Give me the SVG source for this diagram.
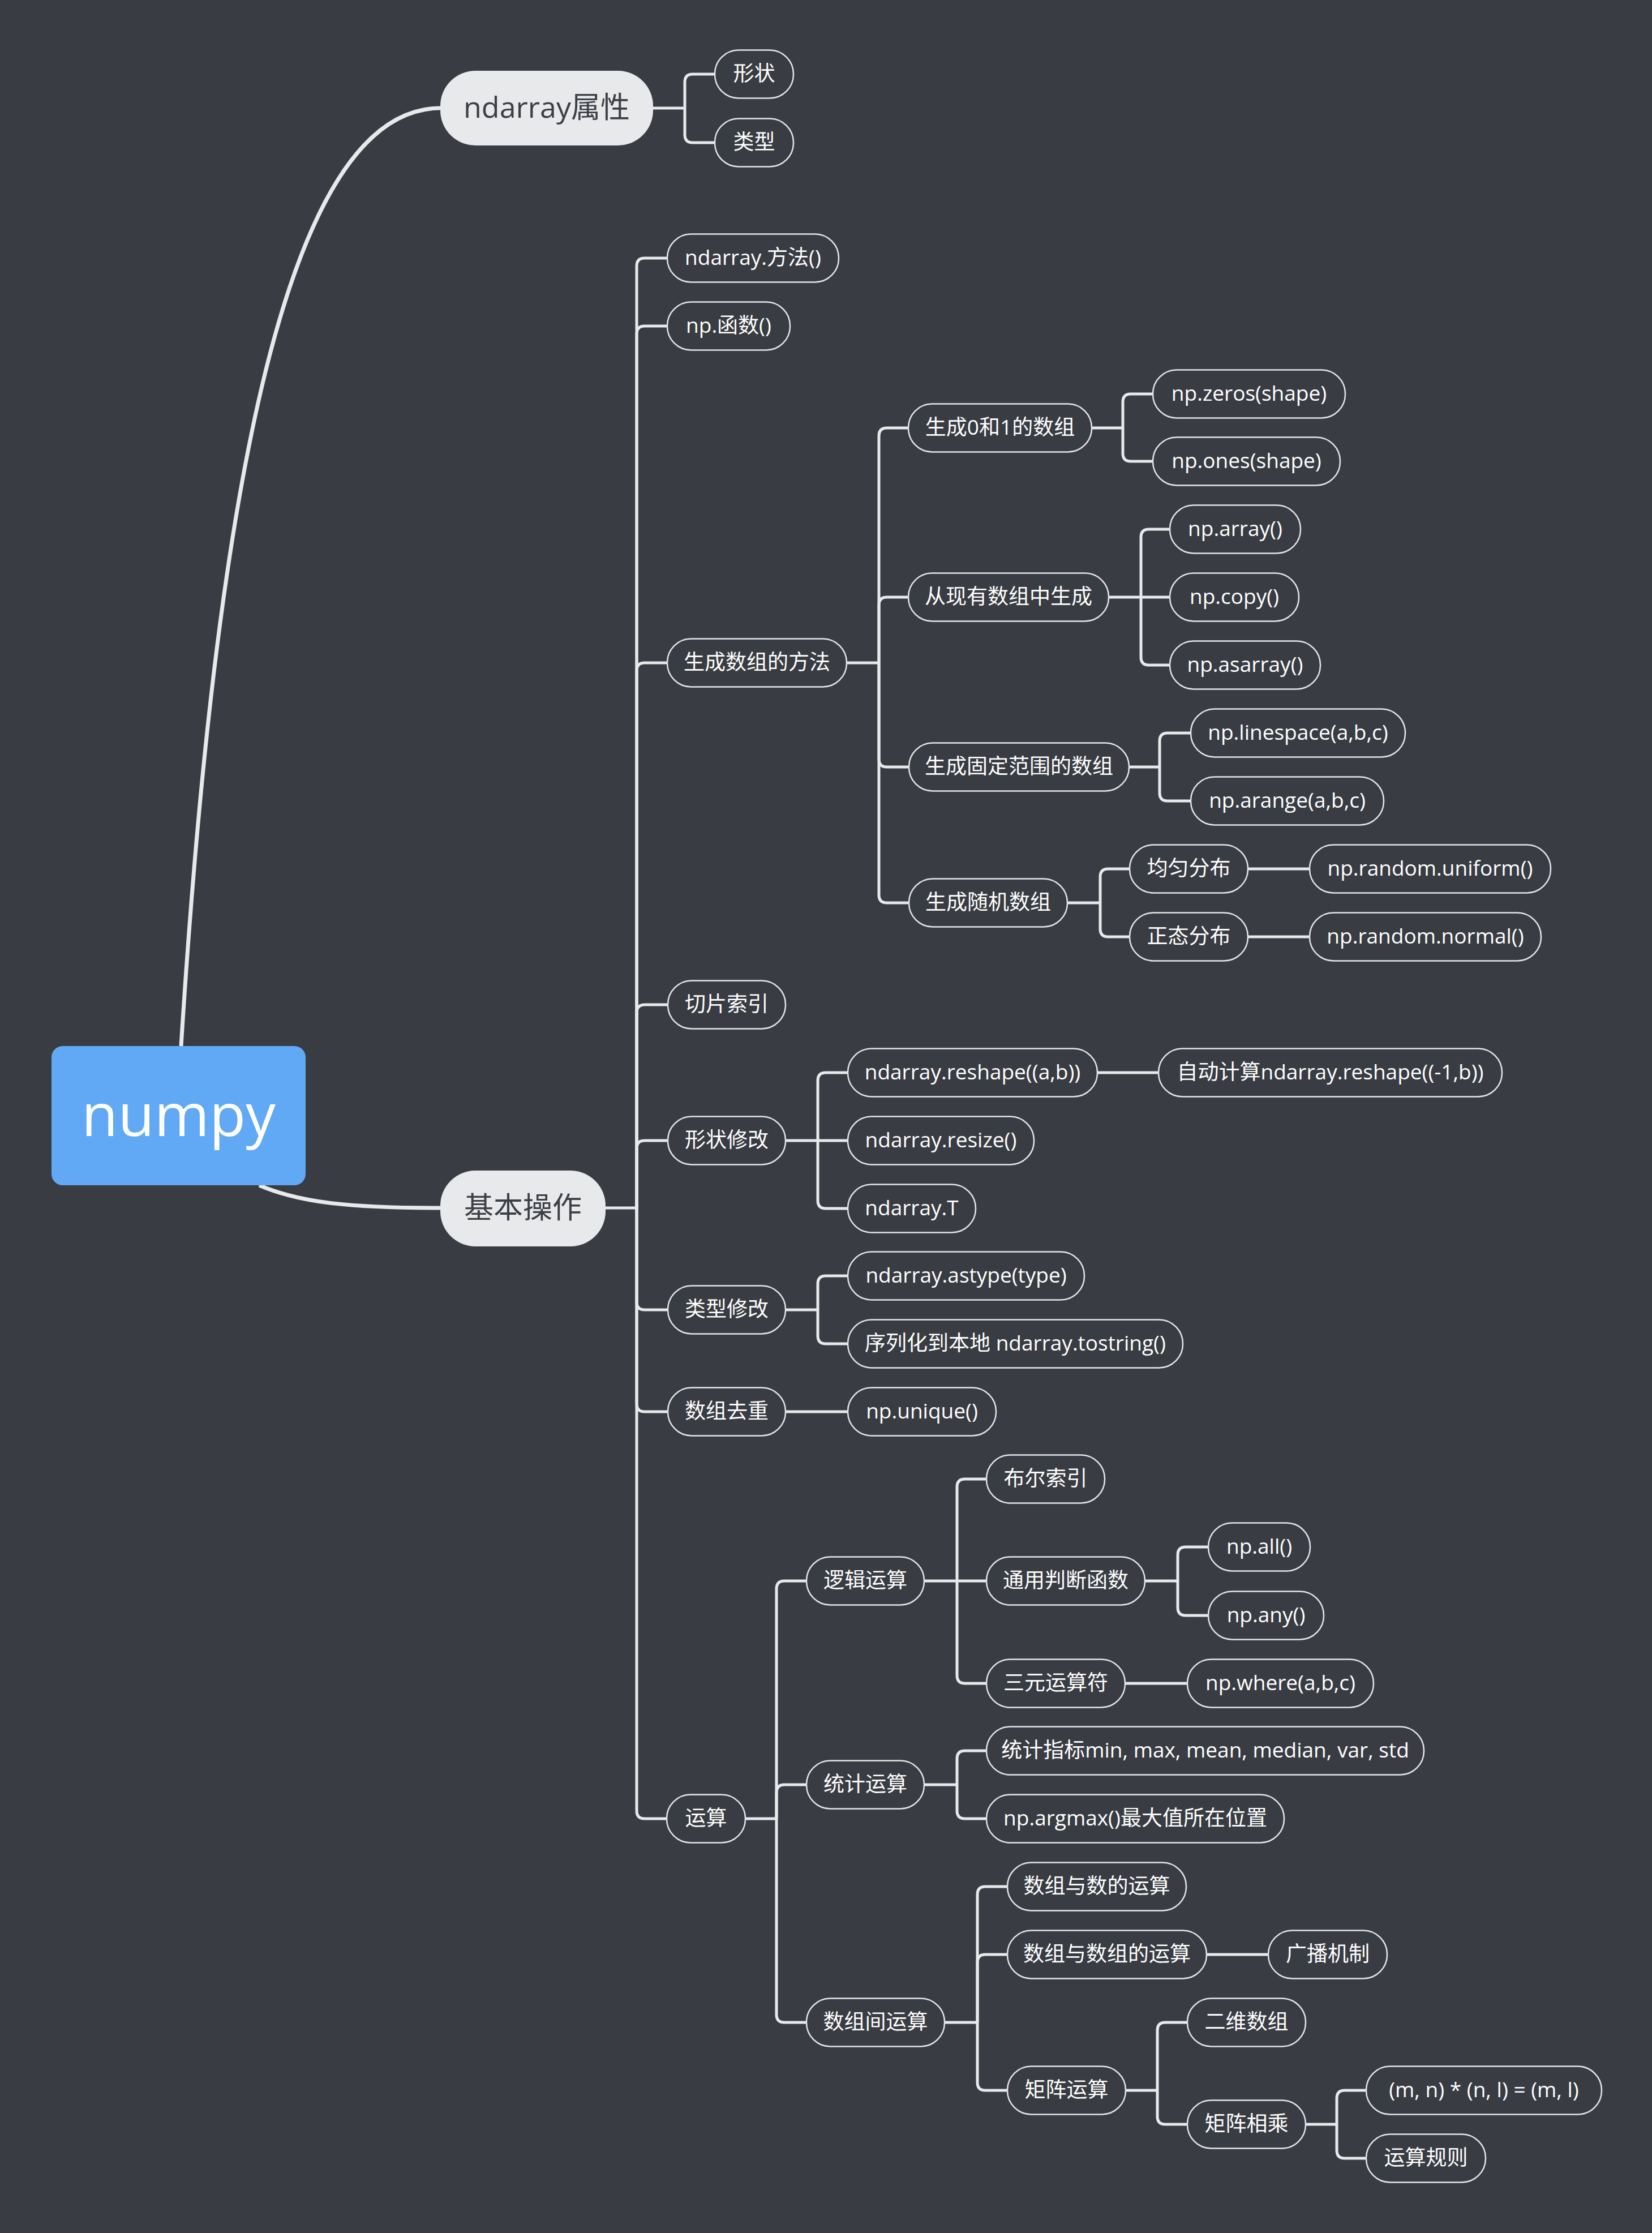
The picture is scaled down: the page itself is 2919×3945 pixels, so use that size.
<svg xmlns="http://www.w3.org/2000/svg" width="2919" height="3945" viewBox="0 0 2919 3945">
<style>
.bg{fill:#393c42}
.c{fill:none;stroke:#e8e9eb;stroke-width:5;stroke-linecap:butt}
.main{fill:none;stroke:#e8e9eb;stroke-width:7}
.n rect{fill:#393c42;stroke:#e4e5e7;stroke-width:2.5}
.n text{fill:#ffffff;font-family:"Open Sans","Noto Sans CJK SC",sans-serif;font-size:37px;text-anchor:middle}
.m rect{fill:#e8e9eb}
.m text{fill:#3c3f45;font-family:"Open Sans","Noto Sans CJK SC",sans-serif;font-size:52px;text-anchor:middle}
.root rect{fill:#62a9f5}
.root text{fill:#ffffff;font-family:"Open Sans","Noto Sans CJK SC",sans-serif;font-size:105px;text-anchor:middle}
</style>
<rect class="bg" x="0" y="0" width="2919" height="3945"/>
<g id="connectors">
<path class="main" d="M320 1848 C380 900 500 191 778 191"/>
<path class="main" d="M458 2094 C530 2125 620 2134 778 2134"/>
<!-- ndarray属性 -->
<path class="c" d="M1154 191 H1210"/>
<path class="c" d="M1210 191 V145 Q1210 131 1224 131 H1263"/>
<path class="c" d="M1210 191 V238 Q1210 252 1224 252 H1263"/>
<!-- 基本操作 -->
<path class="c" d="M1070 2134 H1125"/>
<path class="c" d="M1125 2134 V470 Q1125 456 1139 456 H1179"/>
<path class="c" d="M1125 2134 V590 Q1125 576 1139 576 H1179"/>
<path class="c" d="M1125 2134 V1185 Q1125 1171 1139 1171 H1179"/>
<path class="c" d="M1125 2134 V1789 Q1125 1775 1139 1775 H1180"/>
<path class="c" d="M1125 2134 V2029 Q1125 2015 1139 2015 H1180"/>
<path class="c" d="M1125 2134 V2300 Q1125 2314 1139 2314 H1180"/>
<path class="c" d="M1125 2134 V2480 Q1125 2494 1139 2494 H1180"/>
<path class="c" d="M1125 2134 V3199 Q1125 3213 1139 3213 H1178"/>
<!-- 生成数组的方法 -->
<path class="c" d="M1496 1171 H1553"/>
<path class="c" d="M1553 1171 V770 Q1553 756 1567 756 H1605"/>
<path class="c" d="M1553 1171 V1069 Q1553 1055 1567 1055 H1605"/>
<path class="c" d="M1553 1171 V1341 Q1553 1355 1567 1355 H1606"/>
<path class="c" d="M1553 1171 V1581 Q1553 1595 1567 1595 H1606"/>
<!-- 生成0和1的数组 -->
<path class="c" d="M1929 756 H1984"/>
<path class="c" d="M1984 756 V710 Q1984 696 1998 696 H2037"/>
<path class="c" d="M1984 756 V801 Q1984 815 1998 815 H2037"/>
<!-- 从现有数组中生成 -->
<path class="c" d="M1959 1055 H2067"/>
<path class="c" d="M2016 1055 V949 Q2016 935 2030 935 H2067"/>
<path class="c" d="M2016 1055 V1161 Q2016 1175 2030 1175 H2067"/>
<!-- 生成固定范围的数组 -->
<path class="c" d="M1995 1355 H2049"/>
<path class="c" d="M2049 1355 V1309 Q2049 1295 2063 1295 H2104"/>
<path class="c" d="M2049 1355 V1401 Q2049 1415 2063 1415 H2104"/>
<!-- 生成随机数组 -->
<path class="c" d="M1886 1595 H1944"/>
<path class="c" d="M1944 1595 V1549 Q1944 1535 1958 1535 H1996"/>
<path class="c" d="M1944 1595 V1641 Q1944 1655 1958 1655 H1996"/>
<path class="c" d="M2205 1535 H2314"/>
<path class="c" d="M2205 1655 H2314"/>
<!-- 形状修改 -->
<path class="c" d="M1388 2015 H1498"/>
<path class="c" d="M1445 2015 V1909 Q1445 1895 1459 1895 H1498"/>
<path class="c" d="M1445 2015 V2121 Q1445 2135 1459 2135 H1498"/>
<path class="c" d="M1939 1895 H2047"/>
<!-- 类型修改 -->
<path class="c" d="M1388 2314 H1445"/>
<path class="c" d="M1445 2314 V2268 Q1445 2254 1459 2254 H1498"/>
<path class="c" d="M1445 2314 V2360 Q1445 2374 1459 2374 H1498"/>
<!-- 数组去重 -->
<path class="c" d="M1388 2494 H1498"/>
<!-- 运算 -->
<path class="c" d="M1317 3213 H1372"/>
<path class="c" d="M1372 3213 V2807 Q1372 2793 1386 2793 H1425"/>
<path class="c" d="M1372 3213 V3167 Q1372 3153 1386 3153 H1425"/>
<path class="c" d="M1372 3213 V3559 Q1372 3573 1386 3573 H1425"/>
<!-- 逻辑运算 -->
<path class="c" d="M1633 2793 H1743"/>
<path class="c" d="M1691 2793 V2627 Q1691 2613 1705 2613 H1743"/>
<path class="c" d="M1691 2793 V2960 Q1691 2974 1705 2974 H1743"/>
<!-- 通用判断函数 -->
<path class="c" d="M2023 2793 H2081"/>
<path class="c" d="M2081 2793 V2747 Q2081 2733 2095 2733 H2135"/>
<path class="c" d="M2081 2793 V2840 Q2081 2854 2095 2854 H2135"/>
<path class="c" d="M1988 2974 H2098"/>
<!-- 统计运算 -->
<path class="c" d="M1633 3153 H1691"/>
<path class="c" d="M1691 3153 V3107 Q1691 3093 1705 3093 H1743"/>
<path class="c" d="M1691 3153 V3199 Q1691 3213 1705 3213 H1743"/>
<!-- 数组间运算 -->
<path class="c" d="M1669 3573 H1727"/>
<path class="c" d="M1727 3573 V3347 Q1727 3333 1741 3333 H1780"/>
<path class="c" d="M1727 3573 V3467 Q1727 3453 1741 3453 H1780"/>
<path class="c" d="M1727 3573 V3679 Q1727 3693 1741 3693 H1780"/>
<path class="c" d="M2132 3453 H2241"/>
<!-- 矩阵运算 -->
<path class="c" d="M1989 3693 H2045"/>
<path class="c" d="M2045 3693 V3587 Q2045 3573 2059 3573 H2098"/>
<path class="c" d="M2045 3693 V3739 Q2045 3753 2059 3753 H2098"/>
<!-- 矩阵相乘 -->
<path class="c" d="M2307 3753 H2362"/>
<path class="c" d="M2362 3753 V3707 Q2362 3693 2376 3693 H2414"/>
<path class="c" d="M2362 3753 V3799 Q2362 3813 2376 3813 H2414"/>
</g>
<g id="numpy" class="root"><rect x="91" y="1848" width="449" height="246" rx="20"/><text x="315.5" y="2007">numpy</text></g>
<g id="ndarray-attr" class="m"><rect x="778" y="125" width="376" height="132" rx="62"/><text x="966" y="208">ndarray属性</text></g>
<g id="basic-ops" class="m"><rect x="778" y="2068" width="292" height="134" rx="62"/><text x="924" y="2152">基本操作</text></g>
<g id="n-shape" class="n"><rect x="1263" y="88.5" width="139" height="85" rx="42"/><text x="1332.5" y="143">形状</text></g>
<g id="n-type" class="n"><rect x="1263" y="209.5" width="139" height="85" rx="42"/><text x="1332.5" y="264">类型</text></g>
<g id="n-method" class="n"><rect x="1179" y="413.5" width="303" height="85" rx="42"/><text x="1330.5" y="468">ndarray.方法()</text></g>
<g id="n-func" class="n"><rect x="1179" y="533.5" width="217" height="85" rx="42"/><text x="1287.5" y="588">np.函数()</text></g>
<g id="n-gen" class="n"><rect x="1179" y="1128.5" width="317" height="85" rx="42"/><text x="1337.5" y="1183">生成数组的方法</text></g>
<g id="n-gen01" class="n"><rect x="1605" y="713.5" width="324" height="85" rx="42"/><text x="1767" y="768">生成0和1的数组</text></g>
<g id="n-zeros" class="n"><rect x="2037" y="653.5" width="340" height="85" rx="42"/><text x="2207" y="708">np.zeros(shape)</text></g>
<g id="n-ones" class="n"><rect x="2037" y="772.5" width="331" height="85" rx="42"/><text x="2202.5" y="827">np.ones(shape)</text></g>
<g id="n-fromexist" class="n"><rect x="1605" y="1012.5" width="354" height="85" rx="42"/><text x="1782" y="1067">从现有数组中生成</text></g>
<g id="n-array" class="n"><rect x="2067" y="892.5" width="231" height="85" rx="42"/><text x="2182.5" y="947">np.array()</text></g>
<g id="n-copy" class="n"><rect x="2067" y="1012.5" width="228" height="85" rx="42"/><text x="2181" y="1067">np.copy()</text></g>
<g id="n-asarray" class="n"><rect x="2067" y="1132.5" width="266" height="85" rx="42"/><text x="2200" y="1187">np.asarray()</text></g>
<g id="n-range" class="n"><rect x="1606" y="1312.5" width="389" height="85" rx="42"/><text x="1800.5" y="1367">生成固定范围的数组</text></g>
<g id="n-linespace" class="n"><rect x="2104" y="1252.5" width="379" height="85" rx="42"/><text x="2293.5" y="1307">np.linespace(a,b,c)</text></g>
<g id="n-arange" class="n"><rect x="2104" y="1372.5" width="341" height="85" rx="42"/><text x="2274.5" y="1427">np.arange(a,b,c)</text></g>
<g id="n-random" class="n"><rect x="1606" y="1552.5" width="280" height="85" rx="42"/><text x="1746" y="1607">生成随机数组</text></g>
<g id="n-uniformdist" class="n"><rect x="1996" y="1492.5" width="209" height="85" rx="42"/><text x="2100.5" y="1547">均匀分布</text></g>
<g id="n-normaldist" class="n"><rect x="1996" y="1612.5" width="209" height="85" rx="42"/><text x="2100.5" y="1667">正态分布</text></g>
<g id="n-uniform" class="n"><rect x="2314" y="1492.5" width="426" height="85" rx="42"/><text x="2527" y="1547">np.random.uniform()</text></g>
<g id="n-normal" class="n"><rect x="2314" y="1612.5" width="409" height="85" rx="42"/><text x="2518.5" y="1667">np.random.normal()</text></g>
<g id="n-slice" class="n"><rect x="1180" y="1732.5" width="208" height="85" rx="42"/><text x="1284" y="1787">切片索引</text></g>
<g id="n-reshapemod" class="n"><rect x="1180" y="1972.5" width="208" height="85" rx="42"/><text x="1284" y="2027">形状修改</text></g>
<g id="n-reshape" class="n"><rect x="1498" y="1852.5" width="441" height="85" rx="42"/><text x="1718.5" y="1907">ndarray.reshape((a,b))</text></g>
<g id="n-autoreshape" class="n"><rect x="2047" y="1852.5" width="607" height="85" rx="42"/><text x="2350.5" y="1907">自动计算ndarray.reshape((-1,b))</text></g>
<g id="n-resize" class="n"><rect x="1498" y="1972.5" width="329" height="85" rx="42"/><text x="1662.5" y="2027">ndarray.resize()</text></g>
<g id="n-T" class="n"><rect x="1498" y="2092.5" width="226" height="85" rx="42"/><text x="1611" y="2147">ndarray.T</text></g>
<g id="n-typemod" class="n"><rect x="1180" y="2271.5" width="208" height="85" rx="42"/><text x="1284" y="2326">类型修改</text></g>
<g id="n-astype" class="n"><rect x="1498" y="2211.5" width="418" height="85" rx="42"/><text x="1707" y="2266">ndarray.astype(type)</text></g>
<g id="n-tostring" class="n"><rect x="1498" y="2331.5" width="592" height="85" rx="42"/><text x="1794" y="2386">序列化到本地 ndarray.tostring()</text></g>
<g id="n-dedup" class="n"><rect x="1180" y="2451.5" width="208" height="85" rx="42"/><text x="1284" y="2506">数组去重</text></g>
<g id="n-unique" class="n"><rect x="1498" y="2451.5" width="262" height="85" rx="42"/><text x="1629" y="2506">np.unique()</text></g>
<g id="n-ops" class="n"><rect x="1178" y="3170.5" width="139" height="85" rx="42"/><text x="1247.5" y="3225">运算</text></g>
<g id="n-logic" class="n"><rect x="1425" y="2750.5" width="208" height="85" rx="42"/><text x="1529" y="2805">逻辑运算</text></g>
<g id="n-bool" class="n"><rect x="1743" y="2570.5" width="209" height="85" rx="42"/><text x="1847.5" y="2625">布尔索引</text></g>
<g id="n-general" class="n"><rect x="1743" y="2750.5" width="280" height="85" rx="42"/><text x="1883" y="2805">通用判断函数</text></g>
<g id="n-all" class="n"><rect x="2135" y="2690.5" width="180" height="85" rx="42"/><text x="2225" y="2745">np.all()</text></g>
<g id="n-any" class="n"><rect x="2135" y="2811.5" width="204" height="85" rx="42"/><text x="2237" y="2866">np.any()</text></g>
<g id="n-ternary" class="n"><rect x="1743" y="2931.5" width="245" height="85" rx="42"/><text x="1865.5" y="2986">三元运算符</text></g>
<g id="n-where" class="n"><rect x="2098" y="2931.5" width="329" height="85" rx="42"/><text x="2262.5" y="2986">np.where(a,b,c)</text></g>
<g id="n-stat" class="n"><rect x="1425" y="3110.5" width="208" height="85" rx="42"/><text x="1529" y="3165">统计运算</text></g>
<g id="n-statidx" class="n"><rect x="1743" y="3050.5" width="773" height="85" rx="42"/><text x="2129.5" y="3105">统计指标min, max, mean, median, var, std</text></g>
<g id="n-argmax" class="n"><rect x="1743" y="3170.5" width="526" height="85" rx="42"/><text x="2006" y="3225">np.argmax()最大值所在位置</text></g>
<g id="n-arrayops" class="n"><rect x="1425" y="3530.5" width="244" height="85" rx="42"/><text x="1547" y="3585">数组间运算</text></g>
<g id="n-arrnum" class="n"><rect x="1780" y="3290.5" width="316" height="85" rx="42"/><text x="1938" y="3345">数组与数的运算</text></g>
<g id="n-arrarr" class="n"><rect x="1780" y="3410.5" width="352" height="85" rx="42"/><text x="1956" y="3465">数组与数组的运算</text></g>
<g id="n-broadcast" class="n"><rect x="2241" y="3410.5" width="210" height="85" rx="42"/><text x="2346" y="3465">广播机制</text></g>
<g id="n-matrix" class="n"><rect x="1780" y="3650.5" width="209" height="85" rx="42"/><text x="1884.5" y="3705">矩阵运算</text></g>
<g id="n-2d" class="n"><rect x="2098" y="3530.5" width="209" height="85" rx="42"/><text x="2202.5" y="3585">二维数组</text></g>
<g id="n-matmul" class="n"><rect x="2098" y="3710.5" width="209" height="85" rx="42"/><text x="2202.5" y="3765">矩阵相乘</text></g>
<g id="n-shapes" class="n"><rect x="2414" y="3650.5" width="416" height="85" rx="42"/><text x="2622" y="3705">(m, n) * (n, l) = (m, l)</text></g>
<g id="n-rule" class="n"><rect x="2414" y="3770.5" width="211" height="85" rx="42"/><text x="2519.5" y="3825">运算规则</text></g>
</svg>
